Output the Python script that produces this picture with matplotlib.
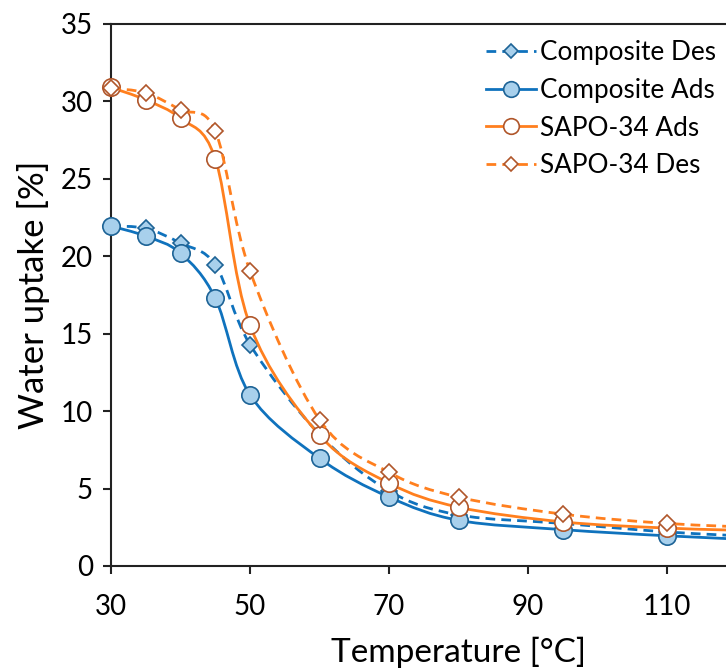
import numpy as np
import matplotlib
matplotlib.use("Agg")
import matplotlib.pyplot as plt
from matplotlib.path import Path
from matplotlib.patches import PathPatch
from matplotlib.lines import Line2D

plt.rcParams['font.family'] = ['Lato', 'DejaVu Sans']

# temperatures [°C]
temp = [30, 35, 40, 45, 50, 60, 70, 80, 95, 110, 125]

# water uptake [%]
comp_des = [21.95, 21.8, 20.85, 19.45, 14.3, 8.5, 4.85, 3.3, 2.75, 2.2, 1.85]
comp_ads = [21.95, 21.3, 20.2, 17.3, 11.05, 6.95, 4.45, 2.95, 2.35, 1.95, 1.65]
sapo_ads = [30.9, 30.1, 28.9, 26.3, 15.55, 8.45, 5.35, 3.8, 2.85, 2.45, 2.25]
sapo_des = [30.85, 30.55, 29.45, 28.1, 19.05, 9.45, 6.05, 4.45, 3.35, 2.75, 2.45]

labels = ["Composite Des", "Composite Ads", "SAPO-34 Ads", "SAPO-34 Des"]

blue = "#0f72bd"
blue_fill = "#a8d0ec"
blue_edge = "#1d6396"
orange = "#ff7f1e"
brown = "#b0562a"


def smooth_path(x, y):
    # excel style smoothed line, drawn as cubic bezier segments
    x = np.asarray(x, float)
    y = np.asarray(y, float)
    pts = np.column_stack([x, y])
    n = len(pts)
    verts = [pts[0]]
    codes = [Path.MOVETO]
    for i in range(n - 1):
        p0 = pts[max(i - 1, 0)]
        p1 = pts[i]
        p2 = pts[i + 1]
        p3 = pts[min(i + 2, n - 1)]
        c1 = p1 + (p2 - p0) / 6.0
        c2 = p2 - (p3 - p1) / 6.0
        verts += [c1, c2, p2]
        codes += [Path.CURVE4] * 3
    return Path(verts, codes)


fig = plt.figure(figsize=(7.26, 6.70), dpi=100)
ax = fig.add_axes([111 / 726, 104 / 670, 695 / 726, 542 / 670])

series = [
    (comp_des, blue, '--', 'D', 7.8, blue_fill, blue_edge),
    (comp_ads, blue, '-', 'o', 12.5, blue_fill, blue_edge),
    (sapo_ads, orange, '-', 'o', 12.5, 'white', brown),
    (sapo_des, orange, '--', 'D', 7.8, 'white', brown),
]

dash = (0, (3.5, 2.2))
handles = []
z = 2
for (vals, col, ls, mk, ms, fc, ec), lab in zip(series, labels):
    patch = PathPatch(smooth_path(temp, vals), fill=False, edgecolor=col,
                      linewidth=2.0, zorder=z)
    if ls == '--':
        patch.set_linestyle(dash)
    ax.add_patch(patch)
    ax.plot(temp, vals, linestyle='none', marker=mk, markersize=ms,
            markerfacecolor=fc, markeredgecolor=ec, markeredgewidth=1.2,
            zorder=z + 0.5, clip_on=False)
    h = Line2D([], [], color=col, linewidth=2.0,
               linestyle=dash if ls == '--' else '-',
               marker=mk, markersize=ms * 0.9, markerfacecolor=fc,
               markeredgecolor=ec, markeredgewidth=1.2)
    handles.append(h)
    z += 1

ax.set_xlim(30, 130)
ax.set_ylim(0, 35)
ax.set_xticks([30, 50, 70, 90, 110])
ax.set_yticks(range(0, 36, 5))

for s in ax.spines.values():
    s.set_linewidth(1.5)
    s.set_color("#222222")

ax.tick_params(direction='out', length=6, width=1.5, labelsize=20,
               colors="#222222", labelcolor="black")
ax.tick_params(axis='x', pad=14)
ax.tick_params(axis='y', pad=7)

ax.set_xlabel("Temperature [°C]", fontsize=24, labelpad=12)
ax.set_ylabel("Water uptake [%]", fontsize=25, labelpad=8)

fig.legend(handles, labels, loc='upper left',
           bbox_to_anchor=(476 / 726, 1 - 30 / 670), frameon=False,
           fontsize=18.8, handlelength=1.9, handletextpad=0.15,
           labelspacing=0.48, borderaxespad=0)

fig.savefig("out.png", dpi=100)
